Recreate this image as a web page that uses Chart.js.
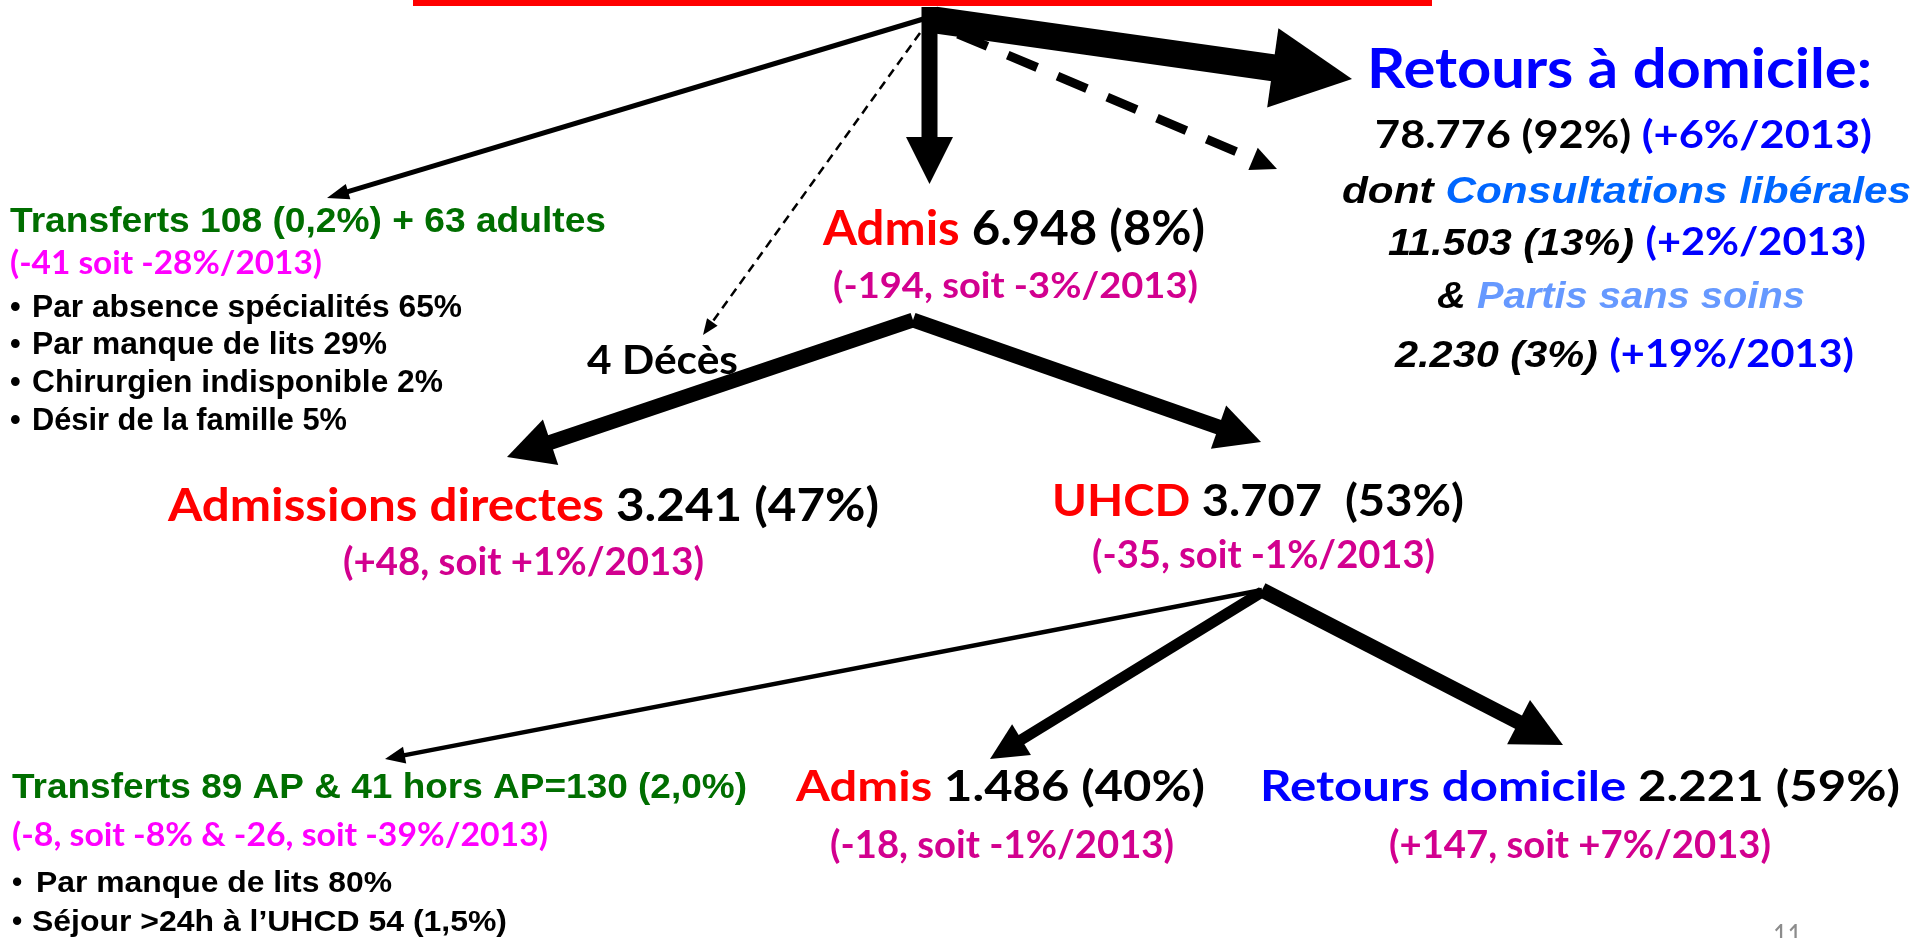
<!DOCTYPE html>
<html lang="fr">
<head>
<meta charset="utf-8">
<title>Devenir des passages 2014</title>
<script src="https://cdn.jsdelivr.net/npm/chart.js@4.4.1/dist/chart.umd.min.js"></script>
<style>
  html, body { margin: 0; padding: 0; background: #fff; overflow: hidden; }
  #flux { display: block; }
</style>
</head>
<body>
<canvas id="flux" width="1917" height="938"></canvas>
<script>
// --- DONNÉES ---
const flowNames  = ['Retours à domicile', 'Admis', 'Transferts', 'Décès', 'Admissions directes', 'UHCD', 'Transferts', 'Admis', 'Retours domicile'];
const flowCounts = [78776, 6948, 108, 4, 3241, 3707, 130, 1486, 2221];
const flowShares = ['92%', '8%', '0,2%', '', '47%', '53%', '2,0%', '40%', '59%'];
const flowVs2013 = ['(+6%/2013)', '(-194, soit -3%/2013)', '(-41 soit -28%/2013)', '', '(+48, soit +1%/2013)',
                    '(-35, soit -1%/2013)', '(-8, soit -8% & -26, soit -39%/2013)', '(-18, soit -1%/2013)', '(+147, soit +7%/2013)'];

const adultesTransferes = 63;
const transfertsAP = [89, 41]; // AP, hors AP

const domicileDetail = ['Consultations libérales', 'Partis sans soins'];
const domicileCounts = [11503, 2230];
const domicileShares = ['13%', '3%'];
const domicileVs2013 = ['(+2%/2013)', '(+19%/2013)'];

const motifsTransfert = ['Par absence spécialités', 'Par manque de lits', 'Chirurgien indisponible', 'Désir de la famille'];
const motifsPct       = [65, 29, 2, 5];
const motifsUHCD      = ['Par manque de lits 80%', 'Séjour >24h à l’UHCD 54 (1,5%)'];

// --- STYLES ---
const RED = '#FF0000', BLACK = '#000000', GREEN = '#006E00', MAGENTA = '#FF00FF', PINK = '#D2008F';
const BLUE = '#0000FF', SKY = '#0066FF', LIGHT = '#6699FF', GREY = '#8C8C8C';
const CALIBRI = 'Lato, "Open Sans", sans-serif';
const ARIAL = '"Liberation Sans", Arial, sans-serif';
const CAP_RATIO = 0.72;

const fmt = n => n.toString().replace(/\B(?=(\d{3})+(?!\d))/g, '.');
const seg = (t, c, f = 'c', i = false, b = true) => ({ t, c, f, i, b });

// --- MISE EN PAGE (repère 1917 x 938) ---
// flèches : flux, départ, pointe, épaisseur, tête (longueur, largeur), tirets
const arrows = [
  { flux: 0, from: [935, 20], to: [1352, 79], w: 27, hl: 80, hw: 80 },
  { flux: 1, from: [929.5, 7], to: [929.5, 184], w: 16, hl: 47, hw: 47 },
  { flux: 0, from: [958, 34], to: [1277, 169], w: 9, hl: 26, hw: 24, dash: [32, 22] },
  { flux: 2, from: [930, 17], to: [327, 198], w: 5, hl: 22, hw: 16 },
  { flux: 3, from: [920, 33], to: [703, 335], w: 2.5, hl: 16, hw: 13, dash: [9, 6] },
  { flux: 4, from: [913, 320], to: [507, 457], w: 15, hl: 46, hw: 48 },
  { flux: 5, from: [913, 320], to: [1261, 442], w: 15, hl: 45, hw: 46 },
  { flux: 8, from: [1262, 590], to: [1563, 745], w: 15, hl: 50, hw: 50 },
  { flux: 7, from: [1262, 592], to: [990, 759], w: 11, hl: 37, hw: 36 },
  { flux: 6, from: [1262, 590], to: [385, 759], w: 4.5, hl: 20, hw: 17 }
];

const motifsRight = [462, 387, 443, 347];
const motifsBase  = [317, 354, 392, 430];
const uhcdRight   = [392, 507];
const uhcdBase    = [892, 931];
const uhcdLeft    = [36, 32];

const labels = [
  { segs: [seg(`${flowNames[2]} ${flowCounts[2]} (${flowShares[2]}) + ${adultesTransferes} adultes`, GREEN, 'a')], left: 10, right: 606, base: 232, cap: 25 },
  { segs: [seg(flowVs2013[2], MAGENTA)], left: 10, right: 322, base: 274, cap: 23 },
  { segs: [seg(`${flowCounts[3]} ${flowNames[3]}`, BLACK)], left: 587, right: 738, base: 374, cap: 29 },
  { segs: [seg(flowNames[1] + ' ', RED), seg(`${fmt(flowCounts[1])} (${flowShares[1]})`, BLACK)], left: 823, right: 1205, base: 245, cap: 34 },
  { segs: [seg(flowVs2013[1], PINK)], left: 833, right: 1198, base: 298, cap: 26 },
  { segs: [seg(flowNames[0] + ':', BLUE)], left: 1367, right: 1872, base: 88, cap: 40 },
  { segs: [seg(`${fmt(flowCounts[0])} (${flowShares[0]}) `, BLACK), seg(flowVs2013[0], BLUE)], left: 1375, right: 1872, base: 148, cap: 28 },
  { segs: [seg('dont ', BLACK, 'a', true), seg(domicileDetail[0], SKY, 'a', true)], left: 1342, right: 1911, base: 203, cap: 27 },
  { segs: [seg(`${fmt(domicileCounts[0])} (${domicileShares[0]}) `, BLACK, 'a', true), seg(domicileVs2013[0], BLUE)], left: 1388, right: 1866, base: 255, cap: 27 },
  { segs: [seg('& ', BLACK, 'a', true), seg(domicileDetail[1], LIGHT, 'a', true)], left: 1437, right: 1805, base: 308, cap: 27 },
  { segs: [seg(`${fmt(domicileCounts[1])} (${domicileShares[1]}) `, BLACK, 'a', true), seg(domicileVs2013[1], BLUE)], left: 1395, right: 1854, base: 367, cap: 27 },
  { segs: [seg(flowNames[4] + ' ', RED), seg(`${fmt(flowCounts[4])} (${flowShares[4]})`, BLACK)], left: 168, right: 879, base: 521, cap: 33 },
  { segs: [seg(flowVs2013[4], PINK)], left: 343, right: 704, base: 575, cap: 27 },
  { segs: [seg(flowNames[5] + ' ', RED), seg(`${fmt(flowCounts[5])}  (${flowShares[5]})`, BLACK)], left: 1052, right: 1464, base: 516, cap: 31 },
  { segs: [seg(flowVs2013[5], PINK)], left: 1092, right: 1435, base: 568, cap: 27 },
  { segs: [seg(`${flowNames[6]} ${transfertsAP[0]} AP & ${transfertsAP[1]} hors AP=${flowCounts[6]} (${flowShares[6]})`, GREEN, 'a')], left: 12, right: 747, base: 798, cap: 25 },
  { segs: [seg(flowVs2013[6], MAGENTA)], left: 12, right: 548, base: 846, cap: 23 },
  { segs: [seg(flowNames[7] + ' ', RED), seg(`${fmt(flowCounts[7])} (${flowShares[7]})`, BLACK)], left: 796, right: 1205, base: 801, cap: 30 },
  { segs: [seg(flowVs2013[7], PINK)], left: 830, right: 1174, base: 858, cap: 27 },
  { segs: [seg(flowNames[8] + ' ', BLUE), seg(`${fmt(flowCounts[8])} (${flowShares[8]})`, BLACK)], left: 1260, right: 1900, base: 801, cap: 30 },
  { segs: [seg(flowVs2013[8], PINK)], left: 1389, right: 1771, base: 858, cap: 27 },
  { segs: [seg('11', GREY, 'c', false, false)], left: 1773, right: 1802, base: 946, cap: 22 }
];

motifsTransfert.forEach((m, i) => {
  labels.push({ segs: [seg('•', BLACK, 'a')], left: 10, base: motifsBase[i], cap: 22 });
  labels.push({ segs: [seg(`${m} ${motifsPct[i]}%`, BLACK, 'a')], left: 32, right: motifsRight[i], base: motifsBase[i], cap: 22 });
});
motifsUHCD.forEach((m, i) => {
  labels.push({ segs: [seg('•', BLACK, 'a')], left: 12, base: uhcdBase[i], cap: 21 });
  labels.push({ segs: [seg(m, BLACK, 'a')], left: uhcdLeft[i], right: uhcdRight[i], base: uhcdBase[i], cap: 21 });
});

// --- GÉOMÉTRIE DES FLÈCHES ---
function baseOf(a) {
  const dx = a.to[0] - a.from[0], dy = a.to[1] - a.from[1];
  const d = Math.hypot(dx, dy);
  return { x: a.to[0] - dx / d * (a.hl - 1), y: a.to[1] - dy / d * (a.hl - 1) };
}

const datasets = arrows.map((a, i) => ({
  label: flowNames[a.flux],
  data: [{ x: a.from[0], y: a.from[1] }, baseOf(a)],
  showLine: true,
  borderColor: BLACK,
  backgroundColor: BLACK,
  borderWidth: a.w,
  borderDash: a.dash || [],
  borderCapStyle: 'butt',
  pointRadius: 0,
  fill: false,
  order: i
}));

function fontOf(s, size) {
  return `${s.i ? 'italic ' : ''}${s.b ? 'bold ' : ''}${size}px ${s.f === 'a' ? ARIAL : CALIBRI}`;
}

// --- PLUGIN DE DESSIN (cadre, pointes, textes) ---
const dessin = {
  id: 'dessin',
  afterDatasetsDraw(chart) {
    const ctx = chart.ctx, xs = chart.scales.x, ys = chart.scales.y;
    const P = (x, y) => [xs.getPixelForValue(x), ys.getPixelForValue(y)];

    // cadre rouge (titre coupé en haut)
    const [bx0, by0] = P(413, -60), [bx1, by1] = P(1432, 6);
    ctx.save();
    ctx.strokeStyle = RED;
    ctx.lineWidth = 6;
    ctx.strokeRect(bx0 + 3, by0, bx1 - bx0 - 6, by1 - by0 - 3);
    ctx.restore();

    // pointes
    ctx.save();
    ctx.fillStyle = BLACK;
    arrows.forEach(a => {
      const [fx, fy] = P(a.from[0], a.from[1]), [tx, ty] = P(a.to[0], a.to[1]);
      const d = Math.hypot(tx - fx, ty - fy), ux = (tx - fx) / d, uy = (ty - fy) / d;
      const hx = tx - ux * a.hl, hy = ty - uy * a.hl;
      ctx.beginPath();
      ctx.moveTo(tx, ty);
      ctx.lineTo(hx - uy * a.hw / 2, hy + ux * a.hw / 2);
      ctx.lineTo(hx + uy * a.hw / 2, hy - ux * a.hw / 2);
      ctx.closePath();
      ctx.fill();
    });
    ctx.restore();

    // textes
    labels.forEach(l => {
      const size = l.cap / CAP_RATIO;
      let total = 0;
      l.segs.forEach(s => { ctx.font = fontOf(s, size); s.w = ctx.measureText(s.t).width; total += s.w; });
      const [x0, y0] = P(l.left, l.base);
      const sx = l.right === undefined ? 1 : (P(l.right, l.base)[0] - x0) / total;
      ctx.save();
      ctx.translate(x0, y0);
      ctx.scale(sx, 1);
      ctx.textBaseline = 'alphabetic';
      ctx.textAlign = 'left';
      let x = 0;
      l.segs.forEach(s => {
        ctx.font = fontOf(s, size);
        ctx.fillStyle = s.c;
        ctx.fillText(s.t, x, 0);
        x += s.w;
      });
      ctx.restore();
    });
  }
};

new Chart(document.getElementById('flux'), {
  type: 'scatter',
  data: { datasets },
  options: {
    responsive: false,
    animation: false,
    layout: { padding: 0 },
    scales: {
      x: { type: 'linear', min: 0, max: 1917, display: false },
      y: { type: 'linear', min: 0, max: 938, reverse: true, display: false }
    },
    plugins: { legend: { display: false }, tooltip: { enabled: false } },
    events: []
  },
  plugins: [dessin]
});
</script>
</body>
</html>
